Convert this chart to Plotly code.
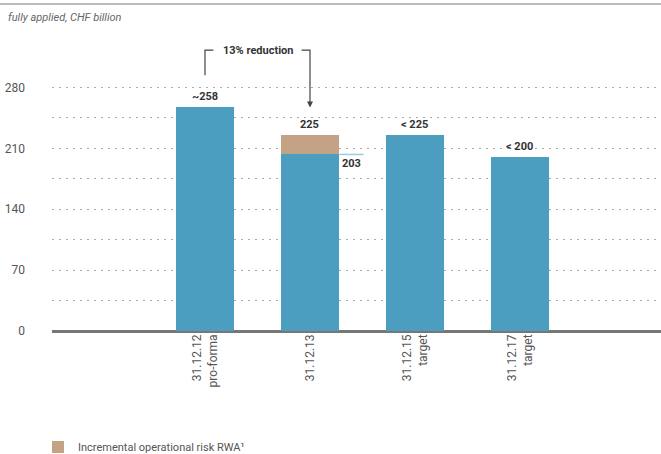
import plotly.graph_objects as go

# data
categories = ["31.12.12<br>pro-forma", "31.12.13", "31.12.15<br>target", "31.12.17<br>target"]
base_rwa = [258, 203, 225, 200]
op_risk_rwa = [0, 22, 0, 0]
value_labels = ["~258", "225", "< 225", "< 200"]
y_ticks = [0, 70, 140, 210, 280]
y_minor = [35, 105, 175, 245]

BLUE = "#4C9EC0"
BROWN = "#C4A384"
GRAY = "#555555"
FONT = "Liberation Sans Narrow, Roboto, sans-serif"
GRID = dict(color="#AAAAAA", dash="2px,5px")

fig = go.Figure()

fig.add_trace(go.Bar(x=categories, y=base_rwa, marker=dict(color=BLUE, line=dict(width=0)),
                     width=0.56, showlegend=False, hoverinfo="skip"))
fig.add_trace(go.Bar(x=categories, y=op_risk_rwa, marker=dict(color=BROWN, line=dict(width=0)),
                     width=0.56, name="Incremental operational risk RWA¹", hoverinfo="skip"))

# value labels above bars
totals = [b + o for b, o in zip(base_rwa, op_risk_rwa)]
for cat, tot, lab in zip(categories, totals, value_labels):
    fig.add_annotation(x=cat, y=tot, text="<b>%s</b>" % lab, showarrow=False, yanchor="bottom",
                       yshift=2, font=dict(size=11, color="#333333", family=FONT))

# 203 leader line + label on the second bar
fig.add_shape(type="line", xref="x", yref="y", x0=1.28, x1=1.51, y0=base_rwa[1], y1=base_rwa[1],
              line=dict(color="#9CCBE0", width=1.5))
fig.add_annotation(x=1.4, y=base_rwa[1], text="<b>203</b>", showarrow=False, yanchor="top",
                   yshift=-1, font=dict(size=11, color="#333333", family=FONT))

# 13% reduction bracket
fig.add_shape(type="path", xref="x", yref="y",
              path="M 0,294 L 0,323 L 0.08,323", line=dict(color="#444444", width=1.2))
fig.add_shape(type="path", xref="x", yref="y",
              path="M 0.92,323 L 1,323 L 1,262", line=dict(color="#444444", width=1.2))
fig.add_annotation(x=1, y=257, ax=1, ay=265, xref="x", yref="y", axref="x", ayref="y",
                   text="", showarrow=True, arrowhead=2, arrowsize=1, arrowwidth=1.2,
                   arrowcolor="#444444")
fig.add_annotation(x=0.505, y=323, text="<b>13% reduction</b>", showarrow=False,
                   font=dict(size=11, color="#333333", family=FONT))

# subtitle and top rule
fig.add_annotation(xref="paper", yref="paper", x=-0.0755, y=1.094, xanchor="left", yanchor="middle",
                   text="<i>fully applied, CHF billion</i>", showarrow=False,
                   font=dict(size=11, color="#666666", family=FONT))
fig.add_shape(type="line", xref="paper", yref="paper", x0=-0.09, x1=1, y0=1.139, y1=1.139,
              line=dict(color="#BBBBBB", width=2))

fig.update_layout(
    barmode="stack",
    width=661, height=454,
    margin=dict(l=52, r=0, t=44, b=123, autoexpand=False),
    paper_bgcolor="white", plot_bgcolor="white",
    font=dict(family=FONT, color=GRAY, size=12),
    legend=dict(orientation="h", x=-0.023, y=-0.404, xanchor="left", yanchor="middle",
                font=dict(size=11, color=GRAY, family=FONT), itemwidth=30),
    xaxis=dict(type="category", range=[-1.457, 4.343], tickangle=-90, showgrid=False,
               showline=False, ticks="", automargin=False, tickfont=dict(size=12, color=GRAY)),
    yaxis=dict(range=[0, 330], tickvals=y_ticks, showgrid=True, gridcolor=GRID["color"],
               griddash=GRID["dash"], gridwidth=1,
               minor=dict(tickvals=y_minor, showgrid=True, gridcolor=GRID["color"],
                          griddash=GRID["dash"], gridwidth=1),
               zeroline=True, zerolinecolor="#777777", zerolinewidth=3, automargin=False,
               ticks="", ticklabelstandoff=26, tickfont=dict(size=12, color=GRAY)),
)

# drop the default page margin so the figure sits at the window's corner
fig.write_html("out.html", config={"displayModeBar": False},
               post_script="document.body.style.margin='0';")
